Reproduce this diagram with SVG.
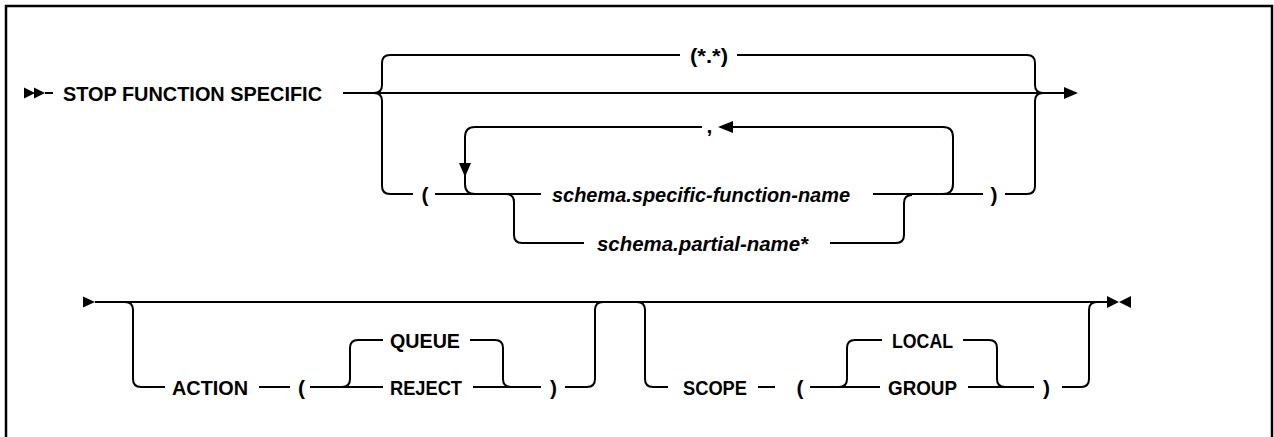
<svg xmlns="http://www.w3.org/2000/svg" width="1274" height="437" viewBox="0 0 1274 437">
<style>
.ln{fill:none;stroke:#000;stroke-width:2;stroke-linejoin:round}
.t{font-family:"Liberation Sans",Arial,sans-serif;font-size:21px;font-weight:bold;fill:#000}
.i{font-style:italic}
.m{text-anchor:middle}
.ah{fill:#000}
</style>
<rect width="1274" height="437" fill="#fff"/>
<path d="M6,437 L6,6 L1272,6 L1272,437" fill="none" stroke="#000" stroke-width="2.5"/>
<g id="connectors">
  <path class="ln" d="M45,93 L53,93"/>
  <path class="ln" d="M343,93 L1064,93"/>
  <path class="ln" d="M374,93 Q382,93 382,85 L382,63 Q382,55 390,55 L680,55"/>
  <path class="ln" d="M374,93 Q382,93 382,101 L382,186 Q382,194 390,194 L413,194"/>
  <path class="ln" d="M737,55 L1027,55 Q1035,55 1035,63 L1035,85 Q1035,93 1043,93"/>
  <path class="ln" d="M1005,194 L1027,194 Q1035,194 1035,186 L1035,101 Q1035,93 1043,93"/>
  <path class="ln" d="M435,194 L541,194"/>
  <path class="ln" d="M873,194 L983,194"/>
  <path class="ln" d="M702,127 L475,127 Q465,127 465,137 L465,184 Q465,194 475,194"/>
  <path class="ln" d="M733,127 L943,127 Q953,127 953,137 L953,184 Q953,194 943,194"/>
  <path class="ln" d="M506,194 Q514,194 514,202 L514,235 Q514,243 522,243 L584,243"/>
  <path class="ln" d="M830,243 L896,243 Q904,243 904,235 L904,203 Q904,195 912,195"/>
  <path class="ln" d="M95,302 L1108,302"/>
  <path class="ln" d="M125,302 Q133,302 133,310 L133,379 Q133,387 141,387 L165,387"/>
  <path class="ln" d="M259,387 L290,387"/>
  <path class="ln" d="M310,387 L383,387"/>
  <path class="ln" d="M342,387 Q350,387 350,379 L350,348 Q350,340 358,340 L383,340"/>
  <path class="ln" d="M470,340 L495,340 Q503,340 503,348 L503,379 Q503,387 511,387"/>
  <path class="ln" d="M473,387 L541,387"/>
  <path class="ln" d="M565,387 L587,387 Q595,387 595,379 L595,310 Q595,302 603,302"/>
  <path class="ln" d="M637,302 Q645,302 645,310 L645,379 Q645,387 653,387 L668,387"/>
  <path class="ln" d="M758,387 L775,387"/>
  <path class="ln" d="M810,387 L880,387"/>
  <path class="ln" d="M839,387 Q847,387 847,379 L847,348 Q847,340 855,340 L882,340"/>
  <path class="ln" d="M963,340 L989,340 Q997,340 997,348 L997,379 Q997,387 1005,387"/>
  <path class="ln" d="M968,387 L1034,387"/>
  <path class="ln" d="M1062,387 L1081,387 Q1089,387 1089,379 L1089,310 Q1089,302 1097,302"/>
  <path class="ah" d="M24,87.5 L35,93 L24,98.5 Z M34,87.5 L45,93 L34,98.5 Z"/>
  <path class="ah" d="M1064,87 L1078,93 L1064,99 Z"/>
  <path class="ah" d="M733,121 L718,127 L733,133 Z"/>
  <path class="ah" d="M459,163 L465,177 L471,163 Z"/>
  <path class="ah" d="M83,296.5 L95,302 L83,307.5 Z"/>
  <path class="ah" d="M1107,296 L1119,302 L1107,308 Z M1131,296 L1119,302 L1131,308 Z"/>
</g>
<g id="start"><text class="t" x="63" y="100.5" textLength="259" lengthAdjust="spacingAndGlyphs">STOP FUNCTION SPECIFIC</text></g>
<g id="all"><text class="t m" x="709" y="62.5" textLength="38" lengthAdjust="spacingAndGlyphs">(*.*)</text></g>
<g id="comma"><text class="t m" x="709.5" y="133">,</text></g>
<g id="lparen1"><text class="t m" x="425" y="201.5">(</text></g>
<g id="specific-name"><text class="t i" x="552" y="201.5" textLength="298" lengthAdjust="spacingAndGlyphs">schema.specific-function-name</text></g>
<g id="partial-name"><text class="t i" x="597" y="250.5" textLength="211" lengthAdjust="spacingAndGlyphs">schema.partial-name*</text></g>
<g id="rparen1"><text class="t m" x="994" y="201.5">)</text></g>
<g id="action"><text class="t" x="172" y="394.5" textLength="76" lengthAdjust="spacingAndGlyphs">ACTION</text></g>
<g id="lparen2"><text class="t m" x="301.5" y="394.5">(</text></g>
<g id="queue"><text class="t" x="390" y="347.5" textLength="70" lengthAdjust="spacingAndGlyphs">QUEUE</text></g>
<g id="reject"><text class="t" x="390" y="394.5" textLength="72" lengthAdjust="spacingAndGlyphs">REJECT</text></g>
<g id="rparen2"><text class="t m" x="553.5" y="394.5">)</text></g>
<g id="scope"><text class="t" x="683" y="394.5" textLength="64" lengthAdjust="spacingAndGlyphs">SCOPE</text></g>
<g id="lparen3"><text class="t m" x="800" y="394.5">(</text></g>
<g id="local"><text class="t" x="892" y="347.5" textLength="61" lengthAdjust="spacingAndGlyphs">LOCAL</text></g>
<g id="group"><text class="t" x="888" y="394.5" textLength="69" lengthAdjust="spacingAndGlyphs">GROUP</text></g>
<g id="rparen3"><text class="t m" x="1046.5" y="394.5">)</text></g>
</svg>
